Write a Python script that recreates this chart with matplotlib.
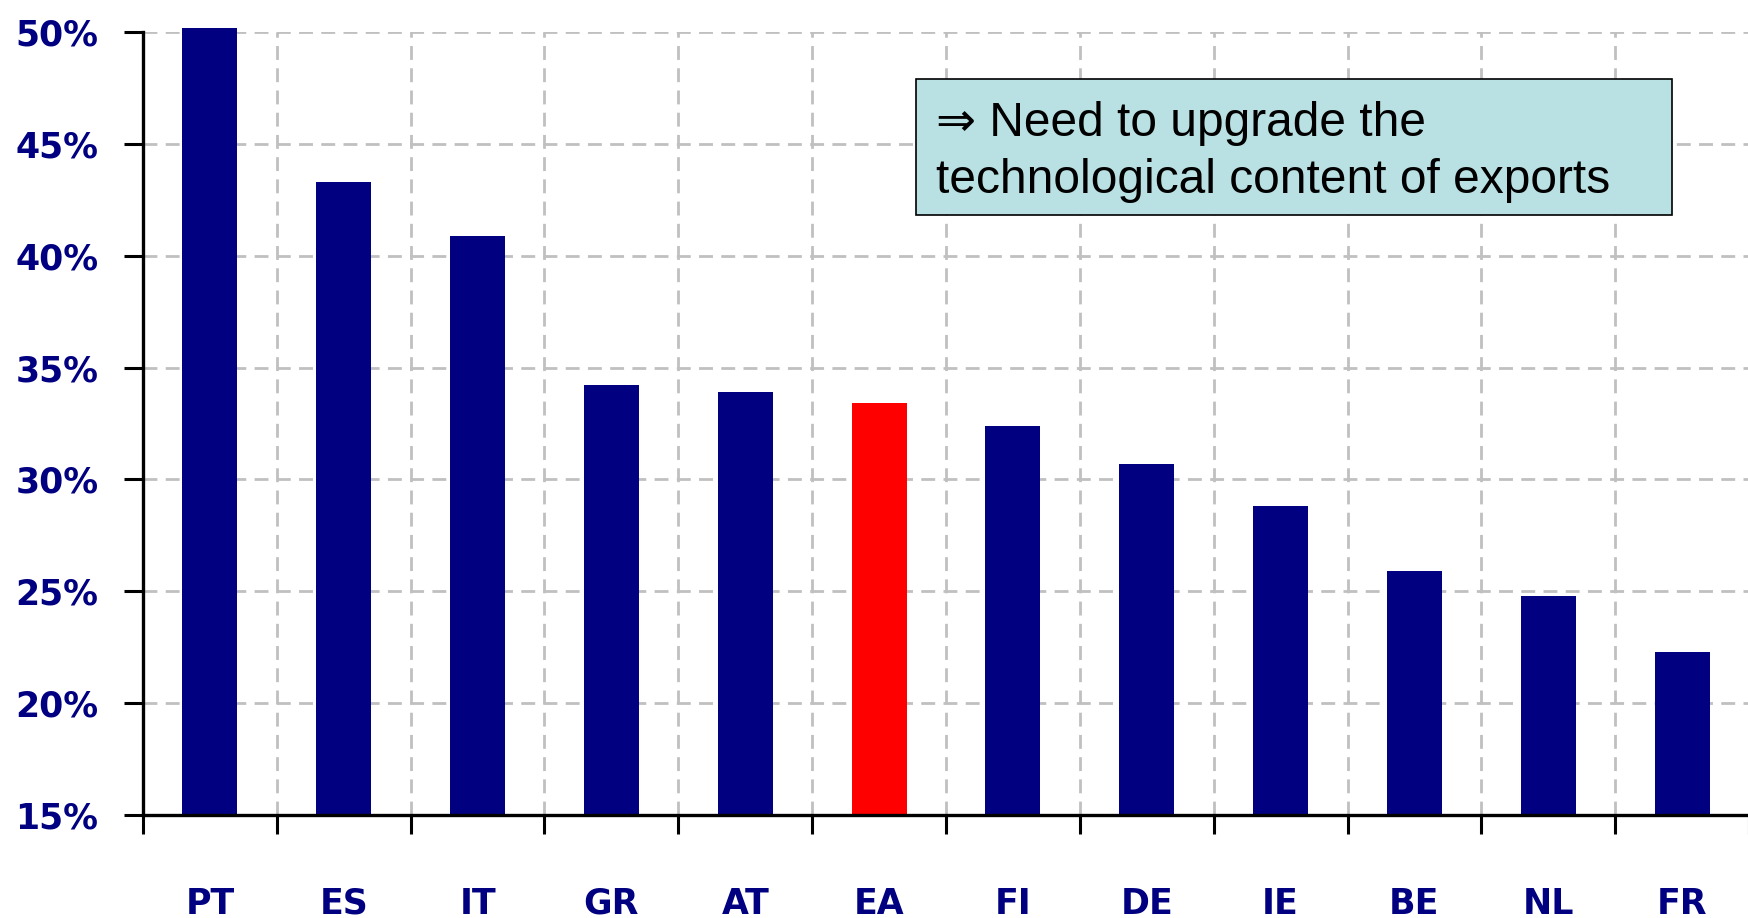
import numpy as np
import matplotlib
matplotlib.use("Agg")
import matplotlib.pyplot as plt
from matplotlib.patches import Rectangle
from matplotlib.transforms import blended_transform_factory

# Data
countries = ['PT', 'ES', 'IT', 'GR', 'AT', 'EA', 'FI', 'DE', 'IE', 'BE', 'NL', 'FR']
shares = [50.2, 43.3, 40.9, 34.2, 33.9, 33.4, 32.4, 30.7, 28.8, 25.9, 24.8, 22.3]
highlight = 'EA'
y_ticks = [15, 20, 25, 30, 35, 40, 45, 50]
note = "\u21d2 Need to upgrade the\ntechnological content of exports"

navy = '#000080'
base = y_ticks[0]
W, H = 1749, 918
fig = plt.figure(figsize=(W / 100, H / 100), dpi=100)
ax = fig.add_axes([143 / W, (918 - 815) / H, 1 - 143 / W, (815 - 32) / H])

x = np.arange(len(countries))
colors = ['#ff0000' if c == highlight else navy for c in countries]
bars = ax.bar(x, np.array(shares) - base, width=0.41, bottom=base, color=colors, zorder=3)
for b in bars:
    b.set_clip_on(False)

ax.set_ylim(15, 50)
ax.set_xlim(-0.5, -0.5 + (W - 143) / 134.9)

ax.set_yticks(y_ticks)
ax.set_yticklabels([f"{v}%" for v in y_ticks], color=navy, fontweight='bold',
                   fontsize=25, family='DejaVu Sans')
ax.set_xticks([])
ax.set_xticks(np.arange(-0.5, len(countries) + 0.5, 1), minor=True)

# category labels, baseline aligned well below the axis
trans = blended_transform_factory(ax.transData, fig.transFigure)
for xi, c in zip(x, countries):
    ax.text(xi, 1 - 914 / H, c, transform=trans, ha='center', va='baseline',
            color=navy, fontweight='bold', fontsize=25, family='DejaVu Sans')

ax.tick_params(axis='x', which='minor', length=14, width=2.2, color='black', labelbottom=False)
ax.tick_params(axis='y', which='major', length=14, width=2.2, color='black', pad=18)

ax.grid(axis='y', which='major', color='#c0c0c0', linestyle=(0, (5, 3)), linewidth=2, zorder=0)
ax.grid(axis='x', which='minor', color='#c0c0c0', linestyle=(0, (5, 3)), linewidth=2, zorder=0)
ax.set_axisbelow(True)

for s in ['top', 'right']:
    ax.spines[s].set_visible(False)
for s in ['left', 'bottom']:
    ax.spines[s].set_linewidth(2.4)
    ax.spines[s].set_zorder(4)

# note box
fig.add_artist(Rectangle((916 / W, 1 - 215 / H), (1672 - 916) / W, (215 - 79) / H,
                         transform=fig.transFigure, facecolor='#b9e0e3',
                         edgecolor='black', linewidth=1.2, zorder=5))
fig.text(936 / W, 1 - 152 / H, note, fontsize=34.5, va='center', ha='left',
         family=['Liberation Sans', 'DejaVu Sans'], linespacing=1.36, zorder=6)

fig.savefig('out.png', dpi=100)
